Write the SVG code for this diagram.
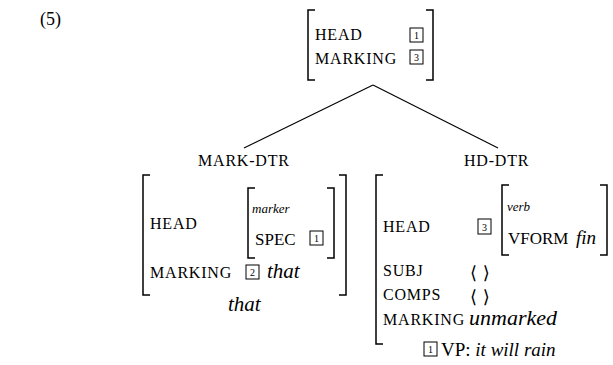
<svg xmlns="http://www.w3.org/2000/svg" width="613" height="365" viewBox="0 0 613 365" font-family="Liberation Serif">
<style>
  text { fill: #000; }
  .sc { font-size: 16px; letter-spacing: 0.8px; }
  .up { font-size: 17px; }
  .it { font-style: italic; }
  .num { font-size: 10px; text-anchor: middle; }
  .br { fill: none; stroke: #000; stroke-width: 1.5; }
  .box { fill: none; stroke: #000; stroke-width: 1; }
  .edge { fill: none; stroke: #000; stroke-width: 1.1; }
</style>
<rect width="613" height="365" fill="#fff"/>
<g id="example-number" font-family="Liberation Serif">
  <text x="40" y="25" font-size="18">(5)</text>
</g>

<g id="connectors">
  <line class="edge" x1="373" y1="85" x2="244" y2="148"/>
  <line class="edge" x1="373" y1="85" x2="498" y2="148"/>
</g>

<g id="root" font-family="Liberation Serif">
  <path class="br" d="M315,10 H308 V80 H315"/>
  <path class="br" d="M426,10 H433 V80 H426"/>
  <text class="sc" x="315" y="40">HEAD</text>
  <text class="sc" x="315" y="64">MARKING</text>
  <rect class="box" x="410" y="28" width="13" height="14"/>
  <text class="num" x="416.5" y="39">1</text>
  <rect class="box" x="410" y="50" width="13" height="14"/>
  <text class="num" x="416.5" y="61">3</text>
</g>

<g id="mark-dtr" font-family="Liberation Serif">
  <text class="sc" x="198" y="166">MARK-DTR</text>
  <path class="br" d="M150,175 H143 V295 H150"/>
  <path class="br" d="M339,175 H346 V295 H339"/>
  <text class="sc" x="150" y="229">HEAD</text>
  <path class="br" d="M255,188 H248 V258 H255"/>
  <path class="br" d="M327,188 H334 V258 H327"/>
  <text class="it" x="252" y="213" font-size="13">marker</text>
  <text class="up" x="255" y="245" font-size="18">SPEC</text>
  <rect class="box" x="310" y="231" width="13" height="14"/>
  <text class="num" x="316.5" y="242">1</text>
  <text class="sc" x="150" y="278">MARKING</text>
  <rect class="box" x="246" y="265" width="13" height="14"/>
  <text class="num" x="252.5" y="276">2</text>
  <text class="it" x="267" y="278" font-size="21">that</text>
  <text class="it" x="228" y="311" font-size="21">that</text>
</g>

<g id="hd-dtr" font-family="Liberation Serif">
  <text class="sc" x="464" y="166">HD-DTR</text>
  <path class="br" d="M383,175 H376 V344 H383"/>
  <text class="sc" x="383" y="232">HEAD</text>
  <rect class="box" x="478" y="219" width="13" height="15"/>
  <text class="num" x="484.5" y="230.5">3</text>
  <path class="br" d="M509,185 H502 V255 H509"/>
  <path class="br" d="M600,185 H607 V255 H600"/>
  <text class="it" x="507" y="211" font-size="13">verb</text>
  <text class="up" x="508" y="244">VFORM</text>
  <text class="it" x="576" y="244" font-size="19">fin</text>
  <text class="sc" x="383" y="276">SUBJ</text>
  <text class="sc" x="383" y="300">COMPS</text>
  <text x="470" y="279" font-family="DejaVu Serif" font-size="18">⟨ ⟩</text>
  <text x="470" y="303" font-family="DejaVu Serif" font-size="18">⟨ ⟩</text>
  <text class="sc" x="383" y="325">MARKING</text>
  <text class="it" x="469" y="325" font-size="22">unmarked</text>
</g>

<g id="footnote" font-family="Liberation Serif">
  <rect class="box" x="424" y="342" width="13" height="14"/>
  <text class="num" x="430.5" y="353">1</text>
  <text x="441" y="356" font-size="19">VP: <tspan class="it">it will rain</tspan></text>
</g>
</svg>
